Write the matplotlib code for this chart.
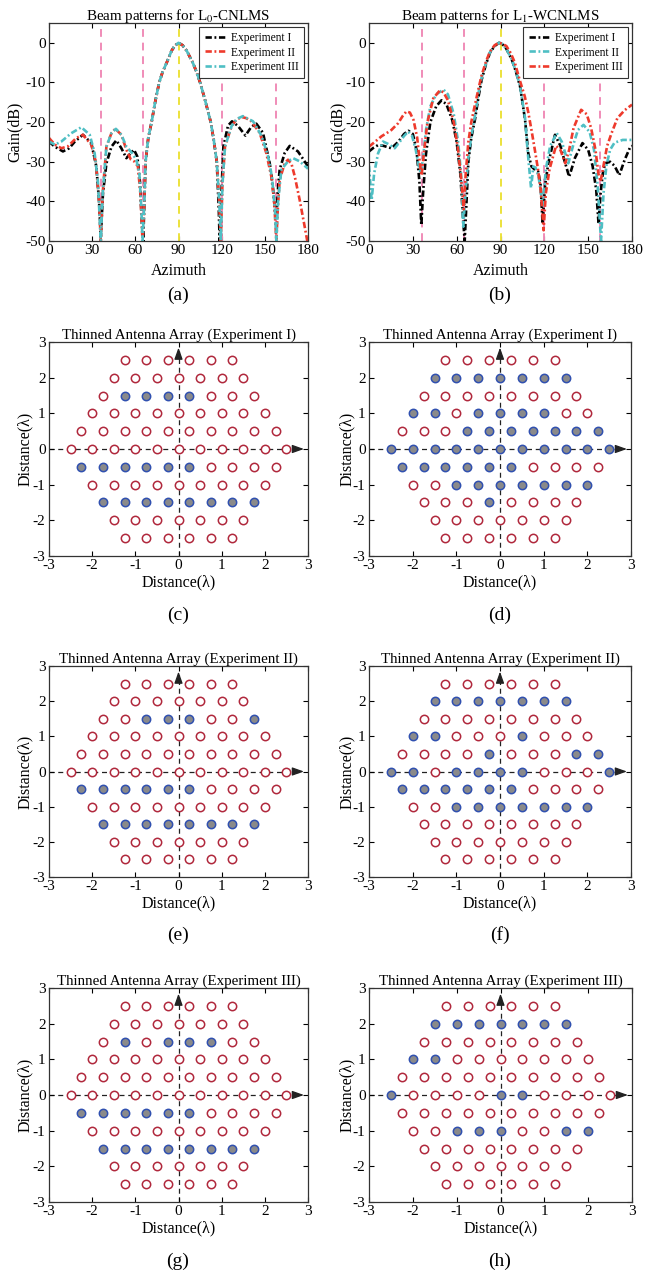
import matplotlib
matplotlib.use('Agg')
import matplotlib.pyplot as plt
import numpy as np

plt.rcParams['font.family'] = ['Liberation Serif', 'DejaVu Serif']
plt.rcParams['mathtext.fontset'] = 'stix'
plt.rcParams['axes.unicode_minus'] = False

# ---------------- beam pattern data (azimuth deg, gain dB) ----------------
# (a) L0-CNLMS
az_a1 = [0, 4, 9.7, 14, 18, 23.6, 29.4, 32.9, 34.8, 36, 37.5, 39.9, 43.4, 46.8, 50.3, 53.8, 56.8, 59.1,
         61.4, 63.2, 64.5, 65.5, 66.3, 67.1, 69, 71.3, 74, 76.6, 79, 81.8, 85.2, 87.5, 90, 92.8, 95.7, 99.9,
         102.5, 105, 108.5, 112.4, 114.5, 116.6, 118, 118.6, 119.6, 121.2, 124.4, 127.2, 131.4, 136.5,
         140.6, 144.1, 148.7, 153.4, 155.5, 157.3, 158.3, 159.3, 160.3, 163.8, 167.3, 173, 176, 180]
g_a1 = [-24.9, -26.2, -27.4, -26.6, -24.9, -23.2, -25.3, -31.2, -40, -49, -38, -30.4, -26.2, -24.6, -26.6,
        -29.1, -27.8, -27, -28.7, -35, -45, -50, -40, -30, -24, -20, -14.5, -10, -7.3, -5, -2, -0.7, 0, -0.6,
        -2, -5, -7.3, -10, -14.5, -20, -24.5, -30, -42, -50, -40, -26.2, -20.9, -19.8, -21, -23.4, -21.2,
        -20.4, -22.7, -30.4, -36, -43.5, -42, -36, -32, -27.8, -26, -27.4, -29, -31.2]

az_a2 = [0, 4.1, 8.6, 13.2, 19, 23.6, 29.4, 32.5, 34.8, 36, 37.3, 39.9, 43.4, 46.1, 50.3, 53.8, 56.8, 59.5,
         61.8, 63.5, 65, 66.3, 67.1, 69, 71.3, 74, 76.6, 79, 81.8, 85.2, 87.5, 90, 92.8, 95.7, 99.9, 102.5,
         105, 108.5, 112.4, 114.5, 116.6, 118.3, 119.4, 120.5, 122.3, 126.9, 130, 133.7, 137, 140.6, 146.4,
         151, 154.5, 156.5, 158, 159, 160.3, 163.8, 166.1, 168.5, 170.8, 174.2, 177.7, 179.5]
g_a2 = [-24.0, -25.7, -26.6, -26.1, -24.0, -23.2, -25.7, -30, -40, -50, -38, -26.2, -22.8, -21.7, -23.2, -27,
        -29.4, -30, -31.2, -38, -50, -40, -30, -24, -20, -14.5, -10, -7.3, -5, -2, -0.7, 0, -0.6, -2, -5,
        -7.3, -10, -14.5, -20, -24.5, -30, -40, -50, -36, -26.2, -21, -19.5, -18.7, -19, -19.8, -22.7, -27.8,
        -33.7, -40, -50, -42, -34.6, -30.4, -29.5, -30.5, -33.7, -39.6, -46.4, -50]

az_a3 = [0, 4.1, 8.6, 15.5, 22.5, 28.3, 31.7, 34, 35.3, 36, 37.3, 39.9, 43.4, 46.5, 50.3, 53.8, 57.7, 60.7,
         62.8, 64.2, 65, 66.3, 67.1, 69, 71.3, 74, 76.6, 79, 81.8, 85.2, 87.5, 90, 92.8, 95.7, 99.9, 102.5,
         105, 108.5, 112.4, 114.5, 116.6, 118.3, 119.4, 120.5, 122.3, 126.9, 130.5, 134.8, 141.8, 147.6,
         152.2, 155, 157, 158, 159.2, 161.5, 166.1, 169.6, 174.2, 179.5, 180]
g_a3 = [-24.9, -25.7, -24.9, -22.8, -21.3, -23.2, -27.8, -35, -45, -50, -38, -26.2, -22.8, -21.7, -23.2,
        -26.2, -27.8, -29.5, -33, -42, -50, -40, -30, -24, -20, -14.5, -10, -7.3, -5, -2, -0.7, 0, -0.6, -2,
        -5, -7.3, -10, -14.5, -20, -24.5, -30, -40, -50, -36, -26.2, -21, -19.2, -18.5, -19.8, -23.4, -28.5,
        -34, -42, -50, -40, -32, -29.9, -29.1, -29.9, -31.6, -31.8]

# (b) L1-WCNLMS
az_b1 = [0, 3, 6.2, 10, 15.3, 20, 24, 27, 30, 32.5, 34.5, 35.8, 37, 39, 42, 46, 49.6, 53, 57, 60, 62.5,
         64.5, 65.5, 66.5, 68, 70, 72.5, 75, 77.1, 80, 82.8, 86, 89, 91, 94, 97.7, 100.5, 103.4, 106.8, 109,
         111.2, 113.5, 115.8, 117.5, 118.8, 120.5, 122.7, 127.3, 131, 134, 137, 141, 146.1, 150, 153, 155.5,
         157.1, 158.5, 160, 161.6, 165, 168, 171.3, 175, 178.9, 180]
g_b1 = [-27.4, -26.5, -25.8, -26, -26.6, -25, -23, -22.2, -23, -27, -35, -46, -38, -28, -20, -16, -14.5,
        -15.5, -19.5, -25, -33, -45, -50, -42, -30, -24, -19.4, -13.5, -9.3, -5.5, -2.5, -0.8, 0, -0.2, -1.5,
        -4.2, -7.2, -11, -19.4, -27.9, -31.2, -32, -32.5, -36, -45.6, -36, -30.4, -23.2, -26, -30, -33.8,
        -29, -25.3, -27, -31, -37, -45.6, -38, -33, -30.4, -30, -31, -33.4, -29.5, -26.2, -26]

az_b2 = [0, 0.8, 1.8, 3.5, 6.2, 9.6, 13, 17.6, 21, 24, 26.8, 29.5, 32, 34, 35.5, 37, 39, 42, 46, 51, 54, 58,
         61, 63, 64.5, 66, 68, 70, 72.5, 75, 77.1, 80, 82.8, 86, 89, 91, 94, 97.7, 100.5, 103.4, 106.8, 108.5,
         110.9, 112.5, 114, 116, 119, 121, 124, 128.5, 132, 136.4, 140, 143, 146.8, 151, 154, 156.5, 158.8,
         160.5, 162.5, 165, 168, 173.6, 180]
g_b2 = [-31, -35, -39.7, -33, -27.9, -24.9, -25.5, -26.6, -25, -23.5, -22.4, -23.5, -27, -31, -33, -29, -22,
        -16, -13, -11.8, -13, -18, -25, -33, -46.4, -38, -29, -23.5, -18.5, -12.5, -8.8, -5.3, -2.4, -0.8, 0,
        -0.2, -1.5, -4.2, -7.2, -11, -19, -27, -36.6, -31.2, -31.5, -33.7, -41, -32, -26, -22.8, -25, -30.4,
        -25.5, -22, -20.7, -22.5, -27, -36, -50, -38, -31, -27, -25.2, -24.5, -24.5]

az_b3 = [0, 4, 8.5, 12, 15.3, 19.9, 23, 25.6, 28, 30.5, 33, 35, 36, 37.5, 40, 44, 48.5, 51, 54, 58, 61, 63,
         64.8, 66.2, 68, 70, 72, 75, 77, 80, 82.8, 86, 89, 91, 94, 97, 99.8, 103, 106.6, 109, 111.2, 113.5,
         115.7, 117.5, 119.5, 121, 123.6, 128, 131, 134.3, 137, 140, 145.2, 149, 152, 155, 157, 158.5, 160.5,
         163, 166, 170, 175, 180]
g_b3 = [-26.2, -25, -23.6, -22.8, -22, -20.3, -18.5, -17.3, -17.6, -19.5, -24, -31, -33.5, -28, -20, -14,
        -12, -12.5, -14.5, -20, -27, -34, -42, -33, -25, -20, -16.5, -11.5, -8.3, -4.8, -2.2, -0.6, 0, -0.2,
        -0.8, -2.6, -5, -9.2, -13.5, -17.5, -22, -27, -32, -37, -47.3, -38, -31.8, -26, -27, -30.4, -27,
        -21.5, -16.9, -18, -21.5, -27, -33, -35, -31, -26, -22.8, -19, -17, -15.6]

null_dirs = [36, 65, 120, 158]
look_dir = 90

# ---------------- hexagonal array ----------------
row_y = [2.5, 2, 1.5, 1, 0.5, 0, -0.5, -1, -1.5, -2, -2.5]
row_n = [6, 7, 8, 9, 10, 11, 10, 9, 8, 7, 6]

all7 = [-1.5, -1, -0.5, 0, 0.5, 1, 1.5]
all8 = [-1.75, -1.25, -0.75, -0.25, 0.25, 0.75, 1.25, 1.75]
all11 = [-2.5, -2, -1.5, -1, -0.5, 0, 0.5, 1, 1.5, 2, 2.5]
left6 = [-2.25, -1.75, -1.25, -0.75, -0.25, 0.25]

act_c = {1.5: [-1.25, -0.75, -0.25, 0.25], -0.5: left6, -1.5: all8}
act_d = {2: all7, 1: [-2, -1.5, -0.5, 0, 0.5, 1], 0.5: [-0.75, -0.25, 0.25, 0.75, 1.25, 1.75, 2.25],
         0: all11, -0.5: left6, -1: [-1, -0.5, 0, 0.5, 1, 1.5, 2], -1.5: [-0.25]}
act_e = {1.5: [-0.75, -0.25, 0.25, 1.75], -0.5: left6, -1.5: all8}
act_f = {2: all7, 1: [-2, -1.5, 0.5], 0.5: [-0.25, 1.75, 2.25], 0: [-2.5, -2, -1, -0.5, 0, 0.5, 2.5],
         -0.5: left6, -1: [-1, -0.5, 0, 0.5, 1, 1.5, 2]}
act_g = {1.5: [-1.25, -0.25, 0.25, 0.75], -0.5: left6, -1.5: all8}
act_h = {2: all7, 1: [-2, -1.5], 0: [-2.5, 0, 0.5], -1: [-1, -0.5, 0, 1.5, 2]}

CYAN = '#4fbfc4'
RED = '#ee3a2c'
PINK = '#f08cb8'
YELLOW = '#ece23c'

fig = plt.figure(figsize=(6.57, 12.71), dpi=100)
W, H = 657.0, 1271.0


def add_ax(l, t, r, b):
    return fig.add_axes([l / W, 1 - b / H, (r - l) / W, (b - t) / H])


def style(ax):
    ax.tick_params(direction='in', top=True, right=True, labelsize=11, length=3.5, width=0.8, pad=2.5)
    for s in ax.spines.values():
        s.set_linewidth(0.9)
        s.set_color('#333333')


def beam(ax, curves, title, ylab_x):
    for d in null_dirs:
        ax.plot([d, d], [-50, 5], '--', color=PINK, lw=1.4, dashes=(4, 3))
    ax.plot([look_dir, look_dir], [-50, 5], '--', color=YELLOW, lw=1.4, dashes=(4, 3))
    for az, g, c, lab in curves:
        ax.plot(az, g, '-.', color=c, lw=1.9, dashes=(2.4, 1.0, 0.7, 1.0), label=lab)
    ax.set_xlim(0, 180)
    ax.set_ylim(-50, 5)
    ax.set_xticks(range(0, 181, 30))
    ax.set_yticks(range(-50, 1, 10))
    ax.set_xlabel('Azimuth', fontsize=11.5)
    ax.set_ylabel('Gain(dB)', fontsize=11.5)
    ax.xaxis.set_label_coords(0.5, -0.1)
    ax.yaxis.set_label_coords(ylab_x, 0.5)
    ax.set_title(title, fontsize=10.8, pad=2)
    leg = ax.legend(loc='upper right', fontsize=8.3, fancybox=False, framealpha=1, edgecolor='#333333',
                    handlelength=1.9, borderpad=0.45, labelspacing=0.2, handletextpad=0.4,
                    borderaxespad=0.35)
    leg.get_frame().set_linewidth(0.8)
    style(ax)


def array_plot(ax, act, title, ylab_x):
    ax.plot([-3, 2.8], [0, 0], '--', color='#222222', lw=0.9, dashes=(4, 3), zorder=1)
    ax.plot([0, 0], [-3, 2.75], '--', color='#222222', lw=0.9, dashes=(4, 3), zorder=1)
    ax.annotate('', xy=(2.97, 0), xytext=(2.72, 0),
                arrowprops=dict(arrowstyle='-|>,head_length=0.7,head_width=0.25', color='#222222', lw=0.9))
    ax.annotate('', xy=(0, 2.92), xytext=(0, 2.62),
                arrowprops=dict(arrowstyle='-|>,head_length=0.7,head_width=0.25', color='#222222', lw=0.9))
    for y, n in zip(row_y, row_n):
        xs = np.arange(n) * 0.5 - (n - 1) * 0.25
        on = set(act.get(y, []))
        xo = [x for x in xs if x not in on]
        xf = [x for x in xs if x in on]
        ax.plot(xo, [y] * len(xo), 'o', ms=6, mfc='white', mec='#b0283c', mew=1.1, zorder=3)
        ax.plot(xf, [y] * len(xf), 'o', ms=6, mfc='#8a8a8a', mec='#3050b0', mew=1.1, zorder=3)
    ax.set_xlim(-3, 3)
    ax.set_ylim(-3, 3)
    ax.set_xticks(range(-3, 4))
    ax.set_yticks(range(-3, 4))
    ax.set_xlabel('Distance(λ)', fontsize=11.5)
    ax.set_ylabel('Distance(λ)', fontsize=11.5)
    ax.xaxis.set_label_coords(0.5, -0.088)
    ax.yaxis.set_label_coords(ylab_x, 0.5)
    ax.set_title(title, fontsize=10.8, pad=2)
    style(ax)


axa = add_ax(49, 23, 308, 241)
beam(axa, [(az_a1, g_a1, 'k', 'Experiment I'), (az_a2, g_a2, RED, 'Experiment II'),
           (az_a3, g_a3, CYAN, 'Experiment III')], 'Beam patterns for L$_0$-CNLMS', -0.1)
axb = add_ax(369, 23, 632, 241)
beam(axb, [(az_b1, g_b1, 'k', 'Experiment I'), (az_b2, g_b2, CYAN, 'Experiment II'),
           (az_b3, g_b3, RED, 'Experiment III')], 'Beam patterns for L$_1$-WCNLMS', -0.09)

panels = [
    (49, 342, 308, 556, act_c, 'Thinned Antenna Array (Experiment I)', -0.06),
    (369, 342, 631, 556, act_d, 'Thinned Antenna Array (Experiment I)', -0.055),
    (49, 666, 308, 877, act_e, 'Thinned Antenna Array (Experiment II)', -0.06),
    (369, 666, 631, 877, act_f, 'Thinned Antenna Array (Experiment II)', -0.055),
    (49, 988, 308, 1202, act_g, 'Thinned Antenna Array (Experiment III)', -0.06),
    (369, 988, 632, 1202, act_h, 'Thinned Antenna Array (Experiment III)', -0.055),
]
for l, t, r, b, act, title, ylx in panels:
    array_plot(add_ax(l, t, r, b), act, title, ylx)

labels = ['(a)', '(b)', '(c)', '(d)', '(e)', '(f)', '(g)', '(h)']
label_y = [295, 295, 615, 615, 935, 935, 1261, 1261]
for i, lab in enumerate(labels):
    cx = 178 if i % 2 == 0 else 500
    fig.text(cx / W, 1 - label_y[i] / H, lab, ha='center', va='center', fontsize=14)

fig.savefig('out.png', dpi=100)
